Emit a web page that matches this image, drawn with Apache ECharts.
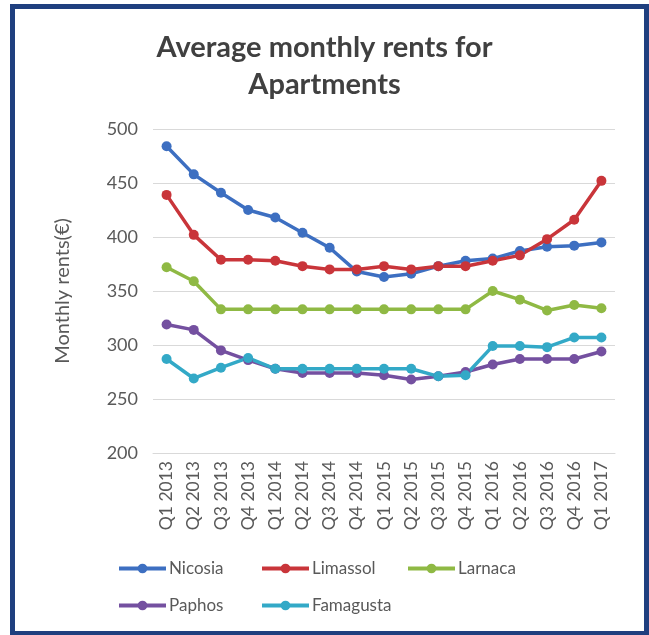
<!DOCTYPE html>
<html>
<head>
<meta charset="utf-8">
<script src="https://cdn.jsdelivr.net/npm/echarts@6/dist/echarts.min.js"></script>
<style>
  html, body { margin: 0; padding: 0; background: #fff; }
  #chart { width: 649px; height: 635px; }
</style>
</head>
<body>
<div id="chart"></div>
<script>
// quarters on the x axis
const quarters = ['Q1 2013', 'Q2 2013', 'Q3 2013', 'Q4 2013', 'Q1 2014', 'Q2 2014', 'Q3 2014', 'Q4 2014',
  'Q1 2015', 'Q2 2015', 'Q3 2015', 'Q4 2015', 'Q1 2016', 'Q2 2016', 'Q3 2016', 'Q4 2016', 'Q1 2017']

// average monthly rents (€)
const nicosia = [484, 458, 441, 425, 418, 404, 390, 368, 363, 366, 373, 378, 380, 387, 391, 392, 395]
const limassol = [439, 402, 379, 379, 378, 373, 370, 370, 373, 370, 373, 373, 378, 383, 398, 416, 452]
const larnaca = [372, 359, 333, 333, 333, 333, 333, 333, 333, 333, 333, 333, 350, 342, 332, 337, 334]
const paphos = [319, 314, 295, 286, 278, 274, 274, 274, 272, 268, 271, 275, 282, 287, 287, 287, 294]
const famagusta = [287, 269, 279, 288, 278, 278, 278, 278, 278, 278, 271, 272, 299, 299, 298, 307, 307]

const yTicks = [200, 250, 300, 350, 400, 450, 500]

const colors = {
  Nicosia: '#3d6fc1',
  Limassol: '#c9353a',
  Larnaca: '#8fb944',
  Paphos: '#7450a0',
  Famagusta: '#33a9c7'
}

const font = 'Lato, "Open Sans", sans-serif'
const textColor = '#595959'

function line(name, data) {
  return {
    name: name,
    type: 'line',
    data: data,
    symbol: 'circle',
    symbolSize: 10,
    lineStyle: { width: 3.5, color: colors[name] },
    itemStyle: { color: colors[name] }
  }
}

function legendAt(name, left, top) {
  return {
    data: [name],
    left: left,
    top: top,
    itemWidth: 47,
    itemHeight: 12,
    lineStyle: { width: 4 },
    textStyle: { fontFamily: font, fontSize: 17, color: textColor, padding: [0, 0, 0, -2] }
  }
}

const charts = echarts.init(document.getElementById('chart'))
charts.setOption({
  animation: false,
  color: Object.values(colors),
  title: {
    text: 'Average monthly rents for\nApartments',
    left: 'center',
    top: 24,
    textStyle: {
      fontFamily: font,
      fontSize: 29,
      fontWeight: 'bold',
      color: '#404040',
      lineHeight: 37
    }
  },
  graphic: [{
    type: 'rect',
    shape: { x: 12.5, y: 6.5, width: 634, height: 627 },
    style: { fill: 'none', stroke: '#1f3f7f', lineWidth: 5 },
    silent: true
  }],
  legend: [
    legendAt('Nicosia', 112, 555),
    legendAt('Limassol', 255, 555),
    legendAt('Larnaca', 401, 555),
    legendAt('Paphos', 112, 592),
    legendAt('Famagusta', 255, 592)
  ],
  grid: {
    left: 153,
    right: 34,
    top: 129,
    bottom: 182
  },
  xAxis: [{
    type: 'category',
    boundaryGap: true,
    data: quarters,
    axisLine: { lineStyle: { color: '#d9d9d9', width: 1 } },
    axisTick: { show: false },
    axisLabel: {
      rotate: 90,
      margin: 8,
      interval: 0,
      color: textColor,
      fontFamily: font,
      fontSize: 17.5
    }
  }],
  yAxis: [{
    type: 'value',
    min: yTicks[0],
    max: yTicks[yTicks.length - 1],
    interval: 50,
    name: 'Monthly rents(€)',
    nameLocation: 'middle',
    nameGap: 80,
    nameTextStyle: { fontFamily: font, fontSize: 20, color: textColor },
    axisLine: { show: false },
    axisTick: { show: false },
    axisLabel: {
      margin: 15,
      color: textColor,
      fontFamily: font,
      fontSize: 18
    },
    splitLine: {
      show: true,
      lineStyle: { color: '#d9d9d9', width: 1 }
    }
  }],
  series: [
    line('Nicosia', nicosia),
    line('Limassol', limassol),
    line('Larnaca', larnaca),
    line('Paphos', paphos),
    line('Famagusta', famagusta)
  ]
})
</script>
</body>
</html>
